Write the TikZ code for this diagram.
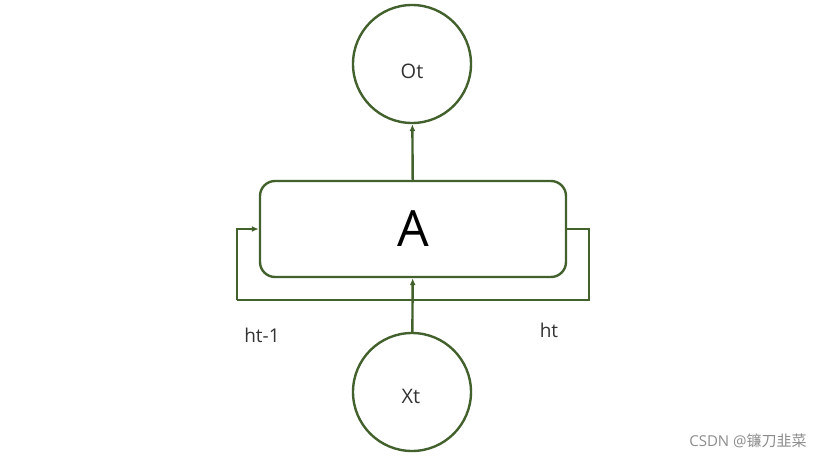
\documentclass[tikz,border=0pt]{standalone}
\usepackage{fontspec}
\setmainfont{Open Sans}
\newfontfamily\cjk{Noto Sans CJK SC}
\usetikzlibrary{arrows.meta}
\definecolor{rnngreen}{HTML}{43612D}
\tikzset{
  unit/.style={circle,draw=rnngreen,line width=2.4pt,minimum size=118pt,inner sep=0pt,
    text=black!80,font=\fontsize{20}{24}\selectfont},
  cell/.style={rectangle,rounded corners=15pt,draw=rnngreen,line width=2.4pt,
    minimum width=306pt,minimum height=96pt,inner sep=0pt,font=\fontsize{50}{56}\selectfont},
  link/.style={draw=rnngreen,line width=2.4pt,-{Latex[length=7pt,width=6pt]}},
  loopline/.style={draw=rnngreen,line width=2.4pt}
}
\begin{document}
\begin{tikzpicture}[x=1pt,y=-1pt,line join=miter]
\useasboundingbox (0,0) rectangle (831,460);

\node[cell] (A) at (413,229) {A};
\node[unit] (O) at (412,64) {};
\node[unit] (X) at (412,392) {};
\node[text=black!80,font=\fontsize{20}{24}\selectfont] (Otxt) at (412,71) {Ot};
\node[text=black!80,font=\fontsize{20}{24}\selectfont] (Xtxt) at (411,396) {Xt};

% 回路的拐点
\coordinate (R) at (589,229);
\coordinate (L) at (237,300);

\draw[link] (A) -- (O);
\draw[link] (X) -- (A);
\draw[loopline] (A.east) -- (R) |- (L);
\draw[link] (L) |- (A.west);

\node[text=black!80] at (262,335) {\fontsize{19}{22}\selectfont ht-1};
\node[text=black!80] at (549,330) {\fontsize{19}{22}\selectfont ht};

\node[text=black!45] at (748,441) {\fontsize{15}{17}\selectfont CSDN @{\cjk 镰刀韭菜}};
\end{tikzpicture}
\end{document}
